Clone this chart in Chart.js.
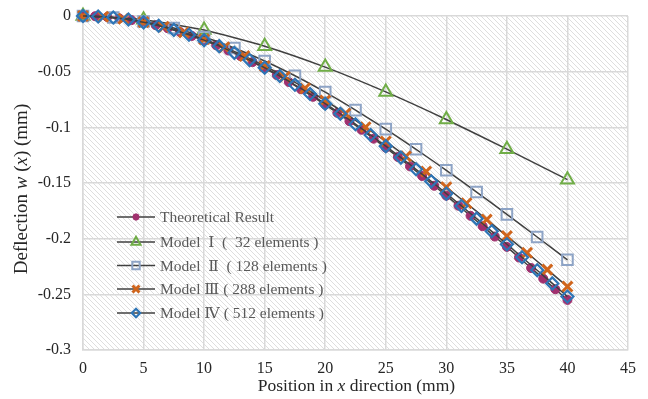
<!DOCTYPE html>
<html>
<head>
<meta charset="utf-8">
<script src="https://cdn.jsdelivr.net/npm/chart.js@4.4.0/dist/chart.umd.min.js"></script>
<style>
    html, body { margin: 0; padding: 0; background: #fff; }
</style>
</head>
<body>
<canvas id="chart" width="648" height="399"></canvas>
<script>
// values (mm)
const xTheory = [0, 1, 2, 3, 4, 5, 6, 7, 8, 9, 10, 11, 12, 13, 14, 15, 16, 17, 18, 19, 20,
                 21, 22, 23, 24, 25, 26, 27, 28, 29, 30, 31, 32, 33, 34, 35, 36, 37, 38, 39, 40];
const wTheory = [0, -0.0002, -0.0009, -0.0021, -0.0037, -0.0057, -0.0082, -0.0110, -0.0143, -0.0179, -0.0219,
                 -0.0263, -0.0310, -0.0360, -0.0414, -0.0471, -0.0530, -0.0593, -0.0658, -0.0726, -0.0797,
                 -0.0870, -0.0945, -0.1022, -0.1102, -0.1183, -0.1266, -0.1351, -0.1437, -0.1525, -0.1614,
                 -0.1704, -0.1795, -0.1888, -0.1981, -0.2074, -0.2169, -0.2264, -0.2359, -0.2454, -0.2550];

const xModel1 = [0, 5, 10, 15, 20, 25, 30, 35, 40];
const wModel1 = [0, -0.0033, -0.0126, -0.0271, -0.0459, -0.0682, -0.0930, -0.1196, -0.1470];

const xModel2 = [0, 2.5, 5, 7.5, 10, 12.5, 15, 17.5, 20, 22.5, 25, 27.5, 30, 32.5, 35, 37.5, 40];
const wModel2 = [0, -0.0013, -0.0049, -0.0108, -0.0188, -0.0287, -0.0404, -0.0537, -0.0684, -0.0845,
                 -0.1016, -0.1197, -0.1386, -0.1581, -0.1782, -0.1985, -0.2190];

const xModel3 = [0, 1.667, 3.333, 5, 6.667, 8.333, 10, 11.667, 13.333, 15, 16.667, 18.333, 20,
                 21.667, 23.333, 25, 26.667, 28.333, 30, 31.667, 33.333, 35, 36.667, 38.333, 40];
const wModel3 = [0, -0.0006, -0.0025, -0.0055, -0.0096, -0.0147, -0.0209, -0.0280, -0.0360, -0.0449,
                 -0.0545, -0.0649, -0.0759, -0.0876, -0.0999, -0.1127, -0.1260, -0.1397, -0.1538,
                 -0.1682, -0.1828, -0.1977, -0.2127, -0.2278, -0.2430];

const xModel4 = [0, 1.25, 2.5, 3.75, 5, 6.25, 7.5, 8.75, 10, 11.25, 12.5, 13.75, 15, 16.25, 17.5, 18.75, 20,
                 21.25, 22.5, 23.75, 25, 26.25, 27.5, 28.75, 30, 31.25, 32.5, 33.75, 35, 36.25, 37.5, 38.75, 40];
const wModel4 = [0, -0.0004, -0.0014, -0.0032, -0.0057, -0.0087, -0.0125, -0.0168, -0.0217, -0.0271, -0.0331,
                 -0.0396, -0.0465, -0.0539, -0.0618, -0.0701, -0.0788, -0.0878, -0.0972, -0.1069, -0.1169,
                 -0.1272, -0.1377, -0.1485, -0.1595, -0.1706, -0.1820, -0.1934, -0.2050, -0.2167, -0.2284,
                 -0.2402, -0.2520];

const xTicks = [0, 5, 10, 15, 20, 25, 30, 35, 40, 45];
const yTicks = [0, -0.05, -0.1, -0.15, -0.2, -0.25, -0.3];

const legendLabels = ['Theoretical Result', 'Model  \u2160  (  32 elements )', 'Model  \u2161  ( 128 elements )',
                      'Model \u2162 ( 288 elements )', 'Model \u2163 ( 512 elements )'];

const SERIF = '"Liberation Serif", "Times New Roman", "DejaVu Serif", serif';
const LINE = '#404040';
const GRID = '#d9d9d9';

const pts = (xs, ys) => xs.map((x, i) => ({ x, y: ys[i] }));

const series = [
    { data: pts(xTheory, wTheory), style: 'circle', r: 4.5, fill: '#A0306E', stroke: '#A0306E', bw: 1, order: 4 },
    { data: pts(xModel1, wModel1), style: 'triangle', r: 7.5, fill: 'rgba(0,0,0,0)', stroke: '#70AD47', bw: 2, order: 3 },
    { data: pts(xModel2, wModel2), style: 'rect', r: 7.5, fill: 'rgba(0,0,0,0)', stroke: '#8EA4C6', bw: 2, order: 2 },
    { data: pts(xModel3, wModel3), style: 'crossRot', r: 7, fill: '#D0651C', stroke: '#D0651C', bw: 3, order: 1 },
    { data: pts(xModel4, wModel4), style: 'rectRot', r: 6, fill: 'rgba(0,0,0,0)', stroke: '#2E75B6', bw: 2.2, order: 0 },
];

// diagonal hatch behind the plot area
function hatch() {
    const p = document.createElement('canvas');
    p.width = p.height = 5;
    const g = p.getContext('2d');
    g.fillStyle = '#fff';
    g.fillRect(0, 0, 5, 5);
    g.fillStyle = '#dedede';
    for (let i = 0; i < 5; i++) g.fillRect(i, i, 1, 1);
    return p;
}

const backdrop = {
    id: 'backdrop',
    beforeDraw(chart) {
        const { ctx, chartArea: a } = chart;
        ctx.save();
        ctx.fillStyle = ctx.createPattern(hatch(), 'repeat');
        ctx.fillRect(a.left, a.top, a.right - a.left, a.bottom - a.top);
        ctx.restore();
    },
};

function drawRich(ctx, parts, size) {
    const total = parts.reduce((s, [t, it]) => {
        ctx.font = `${it ? 'italic ' : ''}${size}px ${SERIF}`;
        return s + ctx.measureText(t).width;
    }, 0);
    let x = -total / 2;
    for (const [t, it] of parts) {
        ctx.font = `${it ? 'italic ' : ''}${size}px ${SERIF}`;
        ctx.fillText(t, x, 0);
        x += ctx.measureText(t).width;
    }
}

const extras = {
    id: 'extras',
    afterDraw(chart) {
        const { ctx, chartArea: a } = chart;
        ctx.save();
        ctx.fillStyle = '#262626';
        ctx.textAlign = 'left';
        ctx.textBaseline = 'middle';
        ctx.translate((a.left + a.right) / 2 + 1, 386);
        drawRich(ctx, [['Position in ', false], ['x', true], [' direction (mm)', false]], 17.5);
        ctx.restore();

        ctx.save();
        ctx.fillStyle = '#262626';
        ctx.textAlign = 'left';
        ctx.textBaseline = 'middle';
        ctx.translate(22, 189);
        ctx.rotate(-Math.PI / 2);
        drawRich(ctx, [['Deflection ', false], ['w', true], [' (', false], ['x', true], [') (mm)', false]], 19);
        ctx.restore();

        // legend inside plot
        const rows = [217, 242, 265.5, 289, 313];
        ctx.save();
        series.forEach((s, i) => {
            const y = rows[i];
            ctx.strokeStyle = LINE;
            ctx.lineWidth = 1.5;
            ctx.beginPath();
            ctx.moveTo(117, y);
            ctx.lineTo(155, y);
            ctx.stroke();
            ctx.fillStyle = s.fill;
            ctx.strokeStyle = s.stroke;
            ctx.lineWidth = s.bw;
            Chart.helpers.drawPoint(ctx, { pointStyle: s.style, radius: s.r * 0.7, rotation: 0, borderWidth: s.bw }, 136, y);
            ctx.fillStyle = '#595959';
            ctx.font = `15.5px ${SERIF}`;
            ctx.textAlign = 'left';
            ctx.textBaseline = 'middle';
            ctx.fillText(legendLabels[i], 160, y + 1);
        });
        ctx.restore();
    },
};

new Chart(document.getElementById('chart'), {
    type: 'line',
    data: {
        datasets: series.map((s, i) => ({
            label: legendLabels[i],
            data: s.data,
            order: s.order,
            clip: false,
            borderColor: LINE,
            borderWidth: 1.5,
            tension: 0.2,
            pointStyle: s.style,
            pointRadius: s.r,
            pointBackgroundColor: s.fill,
            pointBorderColor: s.stroke,
            pointBorderWidth: s.bw,
        })),
    },
    options: {
        responsive: false,
        animation: false,
        layout: { padding: { top: 16, right: 20, left: 0, bottom: 0 } },
        plugins: { legend: { display: false }, tooltip: { enabled: false } },
        scales: {
            x: {
                type: 'linear', min: 0, max: 45,
                afterBuildTicks: (s) => { s.ticks = xTicks.map((v) => ({ value: v })); },
                afterFit: (s) => { s.height = 49; },
                grid: { color: GRID, lineWidth: 1.5, drawTicks: false },
                border: { color: GRID, width: 1.5 },
                ticks: { color: '#262626', padding: 9, font: { family: SERIF, size: 16 } },
            },
            y: {
                type: 'linear', min: -0.3, max: 0,
                afterBuildTicks: (s) => { s.ticks = yTicks.map((v) => ({ value: v })); },
                afterFit: (s) => { s.width = 83; s.paddingTop = 0; s.paddingBottom = 0; },
                grid: { color: GRID, lineWidth: 1.5, drawTicks: false },
                border: { color: GRID, width: 1.5 },
                ticks: { color: '#262626', padding: 12, font: { family: SERIF, size: 16 },
                         callback: (v) => String(+v.toFixed(2)) },
            },
        },
    },
    plugins: [backdrop, extras],
});
</script>
</body>
</html>
